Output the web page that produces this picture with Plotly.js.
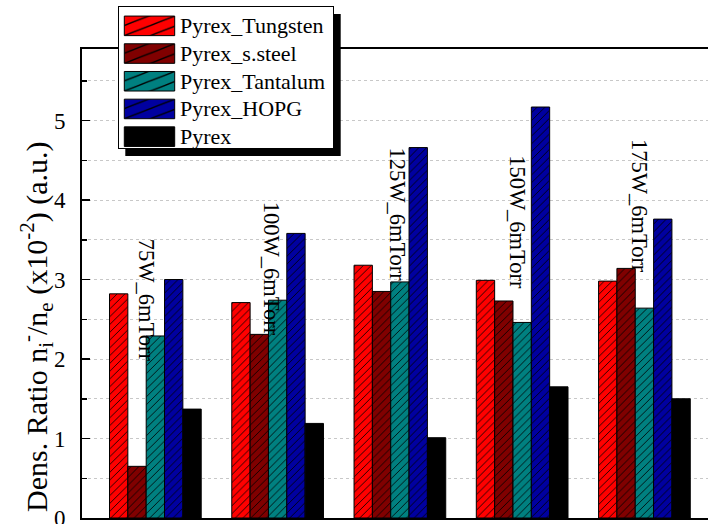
<!DOCTYPE html>
<html>
<head>
<meta charset="utf-8">
<script src="https://cdn.plot.ly/plotly-3.0.1.min.js"></script>
<style>
  html, body { margin: 0; padding: 0; background: #fff; }
  #chart { width: 708px; height: 524px; }
</style>
</head>
<body>
<div id="chart"></div>
<script>
// ---- data ----
const categories = ["75W_6mTorr", "100W_6mTorr", "125W_6mTorr", "150W_6mTorr", "175W_6mTorr"];
const seriesNames = ["Pyrex_Tungsten", "Pyrex_s.steel", "Pyrex_Tantalum", "Pyrex_HOPG", "Pyrex"];
const tungsten = [2.82, 2.71, 3.18, 2.99, 2.98];
const sSteel   = [0.65, 2.31, 2.85, 2.73, 3.14];
const tantalum = [2.29, 2.74, 2.97, 2.46, 2.64];
const hopg     = [3.00, 3.58, 4.66, 5.17, 3.76];
const pyrex    = [1.37, 1.19, 1.01, 1.65, 1.50];
const yTickVals = [0, 1, 2, 3, 4, 5];
const yTitle = "Dens. Ratio n<sub>i</sub><sup>-</sup>/n<sub>e</sub> (x10<sup>-2</sup>) (a.u.)";

// ---- styles ----
const colors = ["#ff0000", "#800000", "#008080", "#0000a0", "#000000"];
const hatched = [true, true, true, true, false];
const seriesValues = [tungsten, sSteel, tantalum, hopg, pyrex];
const FONT = "Liberation Serif, Times New Roman, serif";

const traces = seriesValues.map((vals, i) => {
  const marker = { color: colors[i], line: { color: "#000", width: 1 } };
  if (hatched[i]) {
    marker.pattern = { shape: "/", fgcolor: "#000", bgcolor: colors[i], size: 5.5, solidity: 0.15 };
  }
  return { type: "bar", name: seriesNames[i], x: categories, y: vals, marker: marker };
});

// label placement (layout only)
const labelY = [2.74, 3.14, 3.82, 3.72, 3.92];
const labelShift = [-9, -6, -2, -4, -5];
const annotations = categories.map((c, i) => ({
  x: c, y: labelY[i], xref: "x", yref: "y", text: c, textangle: 90,
  showarrow: false, xshift: labelShift[i],
  font: { family: FONT, size: 22.5, color: "#000" }
}));
annotations.push({
  x: (36 - 82) / 626, y: (518 - 327) / 469, xref: "paper", yref: "paper",
  text: yTitle, textangle: -90, showarrow: false,
  xanchor: "center", yanchor: "middle",
  font: { family: FONT, size: 30, color: "#000" }
});

const layout = {
  width: 708, height: 524,
  margin: { l: 82, r: 0, t: 49, b: 6, pad: 0 },
  paper_bgcolor: "#fff", plot_bgcolor: "#fff",
  font: { family: FONT, size: 22, color: "#000" },
  barmode: "group", bargap: 0.25, bargroupgap: 0,
  showlegend: true,
  legend: {
    x: (118 - 82) / 626, y: (518 - 6) / 469, xanchor: "left", yanchor: "top",
    bgcolor: "#fff", bordercolor: "#000", borderwidth: 1,
    font: { family: FONT, size: 19, color: "#000" },
    itemwidth: 51, traceorder: "normal"
  },
  xaxis: {
    type: "category", range: [-0.6, 4.52],
    showticklabels: false, ticks: "", showgrid: false, zeroline: false,
    showline: true, linecolor: "#000", linewidth: 2, mirror: true
  },
  yaxis: {
    range: [0, 5.9], tickvals: yTickVals, ticks: "inside", ticklen: 8, tickwidth: 1.5,
    tickcolor: "#000", ticklabelstandoff: 10, ticklabeloverflow: "allow",
    tickfont: { family: FONT, size: 23, color: "#000" },
    showline: true, linecolor: "#000", linewidth: 2, zeroline: false,
    showgrid: true, gridcolor: "#c8c8c8", griddash: "dot", gridwidth: 1,
    minor: { dtick: 0.5, ticks: "inside", ticklen: 5, tickcolor: "#000",
             showgrid: true, gridcolor: "#c8c8c8", griddash: "dot", gridwidth: 1 }
  },
  shapes: [{
    type: "rect", xref: "paper", yref: "paper",
    x0: (125.3 - 82) / 626, x1: (340.7 - 82) / 626,
    y0: (518 - 156) / 469, y1: (518 - 14) / 469,
    fillcolor: "#000", line: { width: 0 }, layer: "above"
  }],
  annotations: annotations
};

Plotly.newPlot("chart", traces, layout, { staticPlot: true, displayModeBar: false }).then(gd => {
  gd.querySelectorAll(".legend .legendpoints path").forEach(p => {
    const t = p.getAttribute("transform") || "";
    p.setAttribute("transform", t + " scale(4.2,1.63)");
    p.setAttribute("vector-effect", "non-scaling-stroke");
  });
  gd.querySelectorAll(".legend .legendtext").forEach(t => { t.style.fontSize = "22px"; });
  const bg = gd.querySelector(".legend rect.bg");
  if (bg) { bg.setAttribute("width", 215); bg.setAttribute("height", 142); }
  document.querySelectorAll('clipPath[id^="legend"] rect').forEach(r => {
    r.setAttribute("width", 215); r.setAttribute("height", 142);
  });
});
</script>
</body>
</html>
